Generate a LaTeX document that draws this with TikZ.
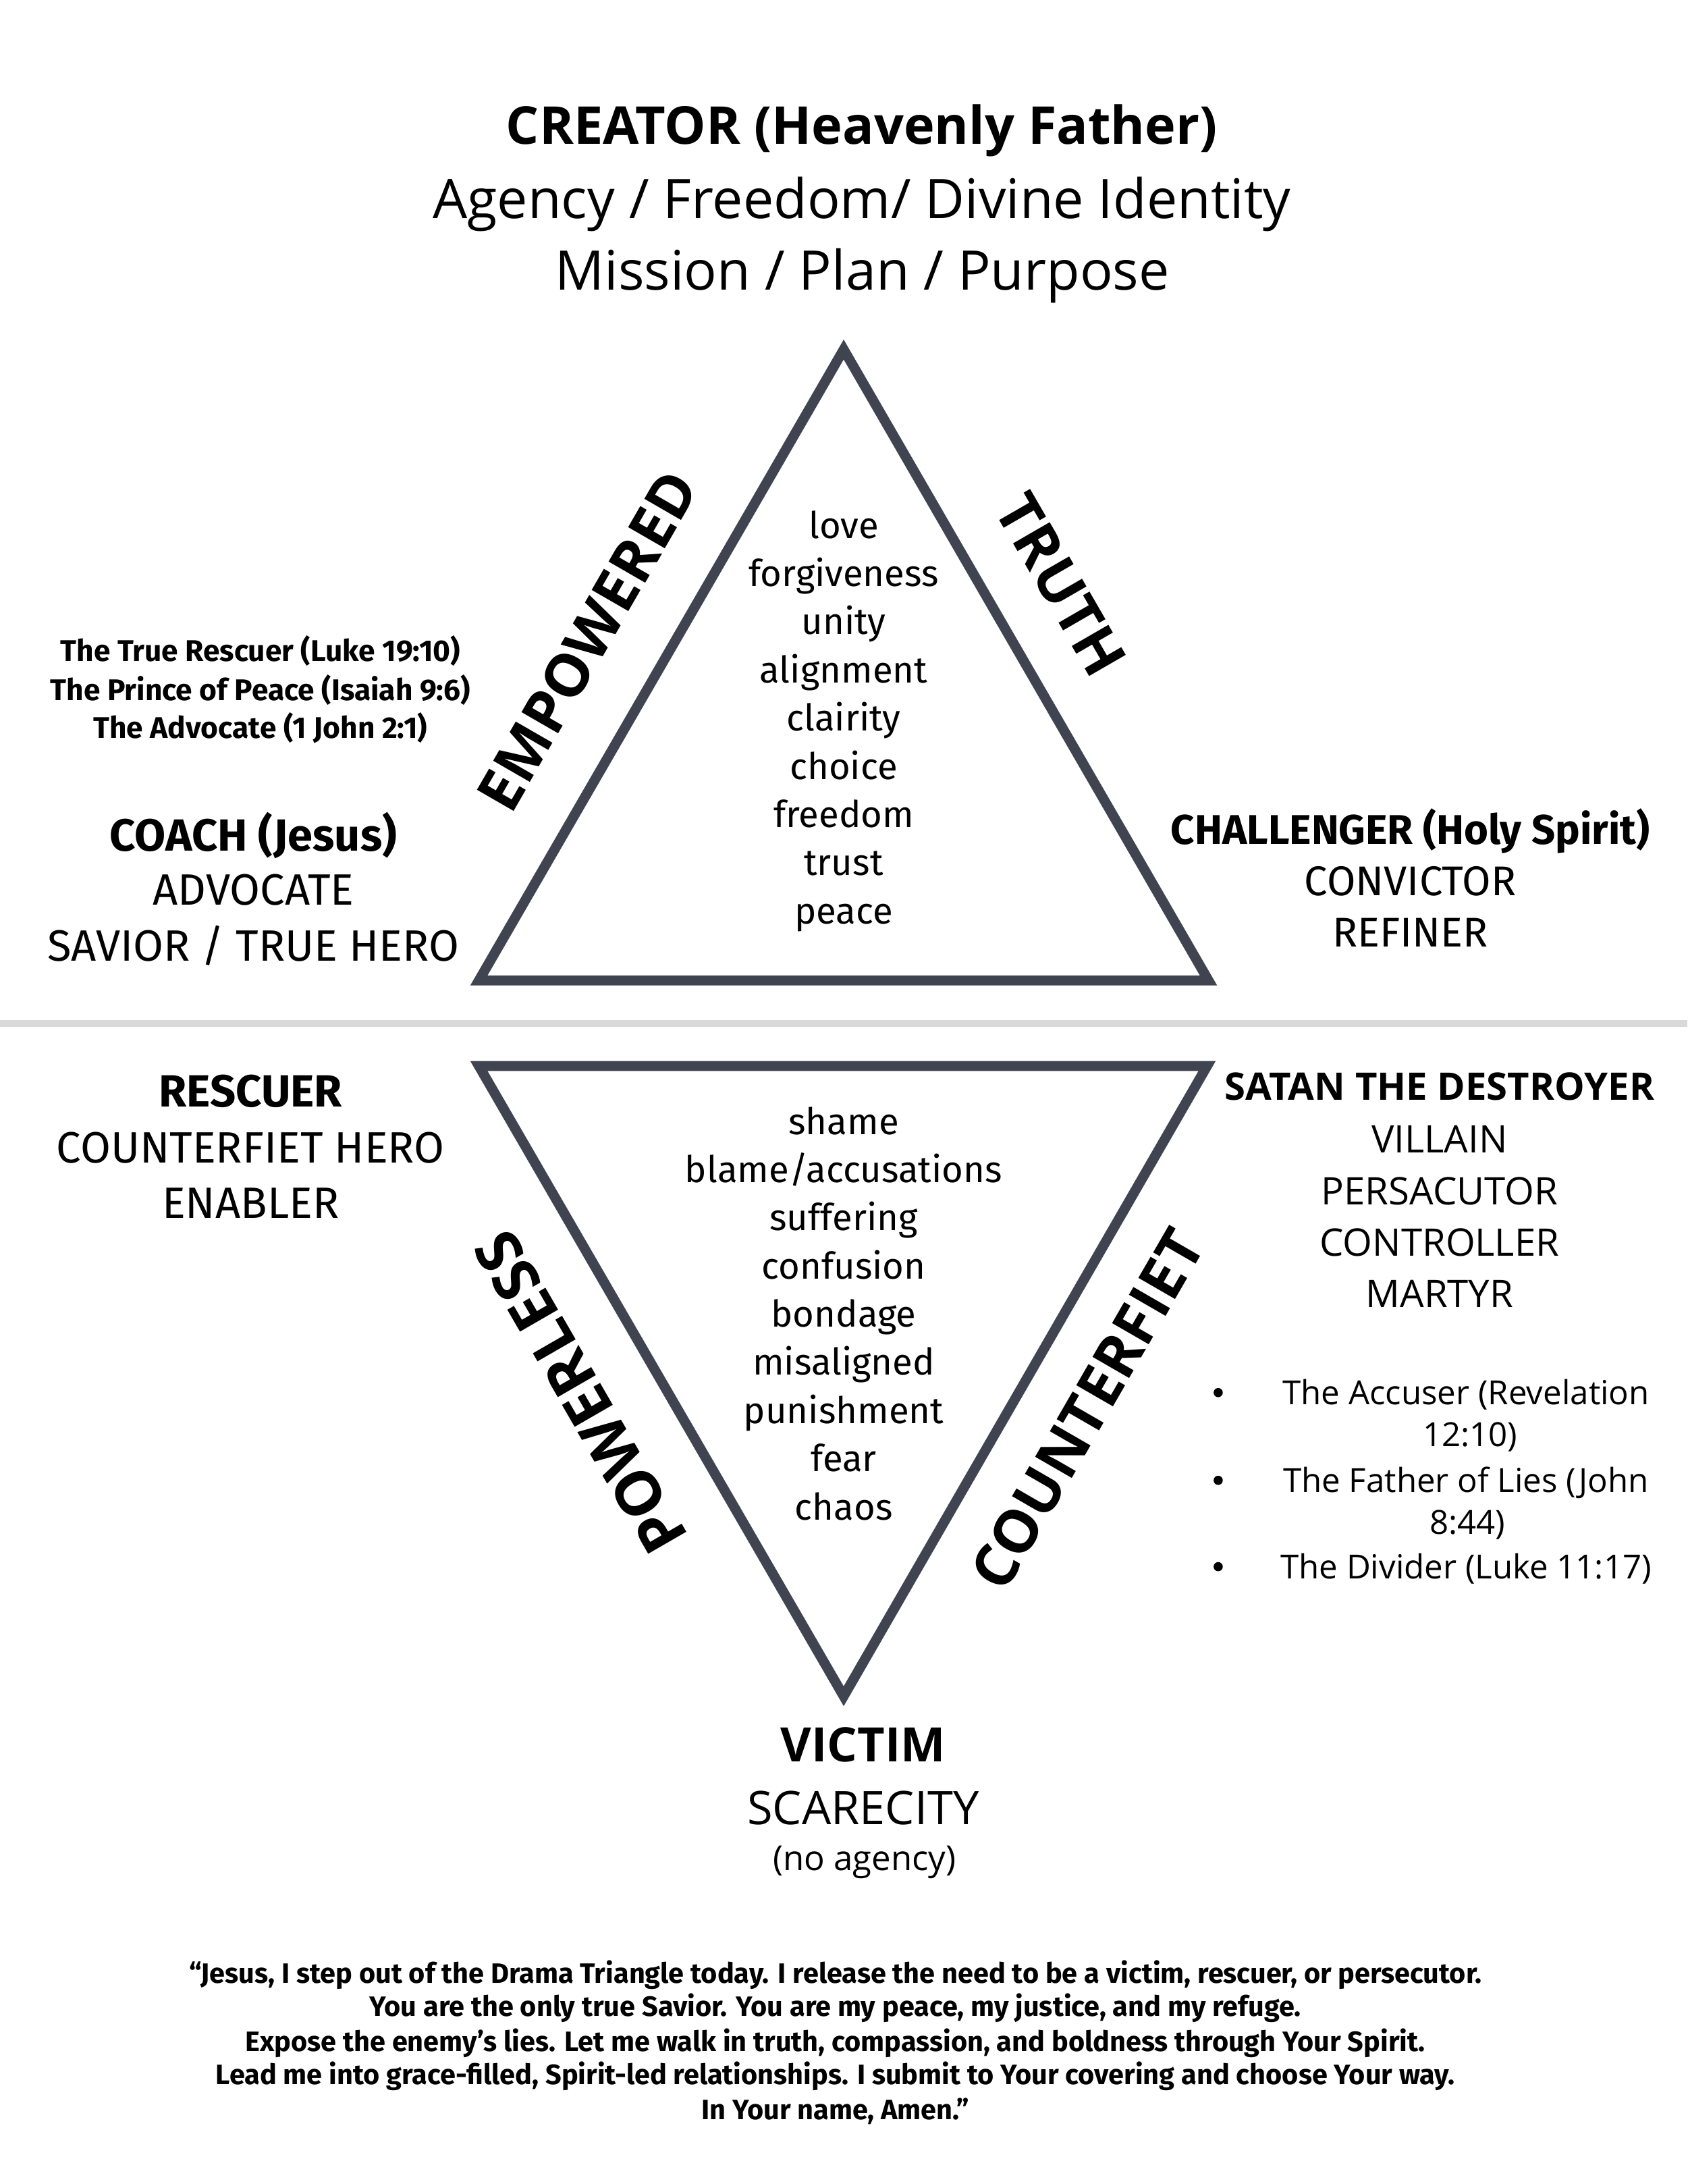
\documentclass[tikz,border=0pt]{standalone}
\usepackage{fontspec}
\setmainfont{Open Sans}
\newfontfamily\fira{Fira Sans}
\definecolor{tri}{HTML}{3F4450}
\definecolor{sepgray}{HTML}{D9D9D9}
\begin{document}
\begin{tikzpicture}[x=0.020627cm, y=-0.020627cm,
  txt/.style={inner sep=0pt, anchor=base, text=black},
  triline/.style={draw=tri, line width=4.2pt, line join=miter},
  sidelabel/.style={inner sep=0pt, text=black, font=\fontsize{25}{30}\selectfont\bfseries},
  innerword/.style={txt, font=\fira\fontsize{15.5}{19}\selectfont},
  coachref/.style={txt, font=\fira\bfseries\fontsize{12.6}{15}\selectfont},
  role/.style={txt, font=\fira\fontsize{18.5}{23}\selectfont},
  rolehead/.style={txt, font=\fira\bfseries\fontsize{19}{23}\selectfont},
  satanrole/.style={txt, font=\fontsize{16}{20}\selectfont},
  bullettext/.style={txt, font=\fontsize{14}{17}\selectfont},
  prayer/.style={txt, font=\fira\bfseries\fontsize{11.8}{14}\selectfont}]
\useasboundingbox (0,0) rectangle (1212,1568.3);
\fill[white] (0,0) rectangle (1212,1568.3);

% title
\node[txt, font=\bfseries\fontsize{22}{26}\selectfont] (t1) at (619,103.5) {CREATOR (Heavenly Father)};
\node[txt, font=\fontsize{23}{28}\selectfont] (t2) at (619,157) {Agency / Freedom/ Divine Identity};
\node[txt, font=\fontsize{23}{28}\selectfont] (t3) at (619.5,208) {Mission / Plan / Purpose};

% upper triangle
\coordinate (uA) at (606,251);
\coordinate (uL) at (344,704);
\coordinate (uR) at (868,704);
\draw[triline] (uA) -- (uL) -- (uR) -- cycle;
\foreach \w [count=\i] in {love,forgiveness,unity,alignment,clairity,choice,freedom,trust,peace}
  \node[innerword] (up\i) at (606,{386.5+34.6*(\i-1)}) {\w};
\node[sidelabel, rotate=60] (emp) at (422,460) {EMPOWERED};
\node[sidelabel, rotate=-60] (truth) at (762,420) {TRUTH};

% coach
\node[coachref] (cr1) at (187,475) {The True Rescuer (Luke 19:10)};
\node[coachref] (cr2) at (187,503) {The Prince of Peace (Isaiah 9:6)};
\node[coachref] (cr3) at (187,530) {The Advocate (1 John 2:1)};
\node[rolehead] (coach) at (182,611) {COACH (Jesus)};
\node[role] (adv) at (182,650) {ADVOCATE};
\node[role] (sav) at (182,690) {SAVIOR / TRUE HERO};

% challenger
\node[txt, font=\fira\bfseries\fontsize{17.5}{21}\selectfont] (chal) at (1013,606) {CHALLENGER (Holy Spirit)};
\node[txt, font=\fira\fontsize{17.5}{21}\selectfont] (conv) at (1013,643) {CONVICTOR};
\node[txt, font=\fira\fontsize{17.5}{21}\selectfont] (ref) at (1013,680) {REFINER};

% separator
\coordinate (sepL) at (0,735);
\coordinate (sepR) at (1212,735);
\draw[sepgray, line width=2.9pt] (sepL) -- (sepR);

% lower triangle
\coordinate (lL) at (344,765.5);
\coordinate (lR) at (867,765.5);
\coordinate (lB) at (606,1218);
\draw[triline] (lL) -- (lR) -- (lB) -- cycle;
\foreach \w [count=\i] in {shame,blame/accusations,suffering,confusion,bondage,misaligned,punishment,fear,chaos}
  \node[innerword] (lo\i) at (606,{814.5+34.6*(\i-1)}) {\w};
\node[sidelabel, rotate=120, font=\fontsize{26}{30}\selectfont\bfseries] (pow) at (417,1000) {POWERLESS};
\node[sidelabel, rotate=60] (cf) at (781,1012) {COUNTERFIET};

% rescuer
\node[rolehead] (resc) at (180,795) {RESCUER};
\node[role] (cfh) at (180,835) {COUNTERFIET HERO};
\node[role] (enab) at (180,875) {ENABLER};

% satan
\node[txt, font=\bfseries\fontsize{16}{20}\selectfont] (satan) at (1034,790) {SATAN THE DESTROYER};
\node[satanrole] (vil) at (1034,828) {VILLAIN};
\node[satanrole] (pers) at (1034,865) {PERSACUTOR};
\node[satanrole] (ctrl) at (1034,902) {CONTROLLER};
\node[satanrole] (mart) at (1034,939) {MARTYR};

\fill[black] (875,1000) circle (3.3) (875,1063) circle (3.3) (875,1125) circle (3.3);
\node[bullettext] (b1a) at (1053,1008.5) {The Accuser (Revelation};
\node[bullettext] (b1b) at (1056,1038.5) {12:10)};
\node[bullettext] (b2a) at (1053,1071.5) {The Father of Lies (John};
\node[bullettext] (b2b) at (1054,1101.5) {8:44)};
\node[bullettext] (b3) at (1053,1133.5) {The Divider (Luke 11:17)};

% victim
\node[txt, font=\bfseries\fontsize{20}{24}\selectfont] (vict) at (620,1265) {VICTIM};
\node[txt, font=\fontsize{19.5}{24}\selectfont] (scar) at (620,1310) {SCARECITY};
\node[txt, font=\fontsize{14.5}{18}\selectfont] (noag) at (621,1343) {(no agency)};

% prayer
\node[prayer] (p1) at (600,1424) {“Jesus, I step out of the Drama Triangle today. I release the need to be a victim, rescuer, or persecutor.};
\node[prayer] (p2) at (600,1448) {You are the only true Savior. You are my peace, my justice, and my refuge.};
\node[prayer] (p3) at (600,1473) {Expose the enemy’s lies. Let me walk in truth, compassion, and boldness through Your Spirit.};
\node[prayer] (p4) at (600,1497) {Lead me into grace-filled, Spirit-led relationships. I submit to Your covering and choose Your way.};
\node[prayer] (p5) at (600,1522) {In Your name, Amen.”};
\end{tikzpicture}
\end{document}
